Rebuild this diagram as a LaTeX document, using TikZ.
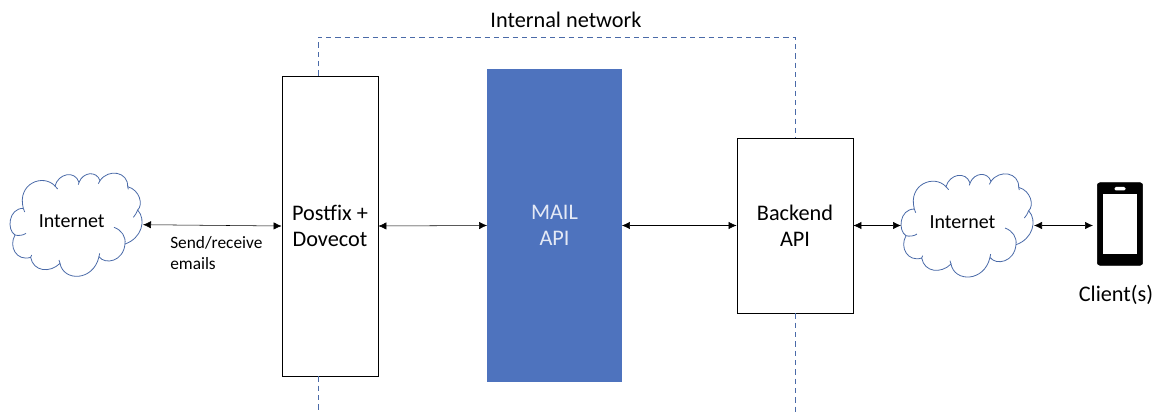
\documentclass[tikz,border=0pt]{standalone}
\usepackage{fontspec}
\setmainfont{Carlito}
\usetikzlibrary{arrows.meta}
\definecolor{netblue}{HTML}{4A6AA8}
\definecolor{apiblue}{HTML}{4E73BE}
\definecolor{apitext}{HTML}{E4E9F5}
\tikzset{
  box/.style={draw=black,fill=white,line width=0.6pt,align=center,inner sep=0pt,font=\fontsize{16.7}{19.8}\selectfont,execute at begin node=\rule{0pt}{14pt}},
  link/.style={{Latex[length=6pt,width=5.5pt]}-{Latex[length=6pt,width=5.5pt]},line width=0.4pt},
  net/.style={netblue,dashed,dash pattern=on 4pt off 3pt,line width=0.7pt},
  label/.style={inner sep=0pt,font=\fontsize{16.7}{19.8}\selectfont},
  cloudlabel/.style={inner sep=0pt,font=\fontsize{15}{18}\selectfont}
}
\def\CLOUD#1#2{
\begin{scope}[shift={(#1,#2)},x=0.25pt,y=-0.25pt]
  \draw [netblue,line width=0.6pt] (70,175) .. controls (50,100) and (130,70) .. (165,108)
    .. controls (175,70) and (225,60) .. (237,97) .. controls (250,65) and (290,62) .. (300,92)
    .. controls (325,55) and (385,65) .. (383,110) .. controls (420,120) and (430,165) .. (413,180)
    .. controls (440,210) and (425,265) .. (375,282) .. controls (370,335) and (315,345) .. (297,320)
    .. controls (280,395) and (190,395) .. (180,340) .. controls (150,370) and (100,365) .. (92,322)
    .. controls (50,335) and (25,290) .. (45,255) .. controls (20,240) and (25,175) .. (70,175);
  \draw [netblue,line width=0.6pt] (342,232) .. controls (365,240) and (378,260) .. (375,282);
  \draw [netblue,line width=0.6pt] (70,175) -- (74,186) (165,108) -- (173,117) (237,97) -- (235,104)
    (300,92) -- (295,101) (383,110) -- (385,118) (413,180) .. controls (410,190) and (405,195) .. (400,202)
    (297,320) -- (299,310) (180,340) -- (177,330) (92,322) -- (95,315);
  \draw [netblue,line width=0.6pt] (45,255) .. controls (55,258) and (70,256) .. (78,250);
\end{scope}
}

\begin{document}
\begin{tikzpicture}[x=0.75pt,y=-0.75pt]
\useasboundingbox (0,0) rectangle (1164,414);
\coordinate (netl) at (318,37);
\coordinate (netr) at (795,37);
\coordinate (netlb) at (318,412);
\coordinate (netrb) at (795,412);
\coordinate (inleft) at (143,224.7);
\coordinate (inmidw) at (901,225.5);
\coordinate (inmide) at (1034,225.5);
\CLOUD{0}{150}
\CLOUD{891}{150.7}
\node [cloudlabel] (inttext) at (71.7,221.5) {Internet};
\node [cloudlabel] (inrtext) at (962.5,222) {Internet};
\node [box,minimum width=96*0.75pt,minimum height=300*0.75pt] (postfix) at (330,226) {Postfix +\\Dovecot};
\node [box,draw=apiblue,fill=apiblue,text=apitext,minimum width=134*0.75pt,minimum height=312*0.75pt] (mail) at (554.5,225.5) {MAIL\\API};
\node [box,minimum width=116*0.75pt,minimum height=175*0.75pt] (backend) at (795,225.5) {Backend\\API};
\node [label] (network) at (566,20) {Internal network};
\node [label,font=\fontsize{13}{15.8}\selectfont,align=left,anchor=west] (send) at (170,253.5) {Send/receive\\emails};
\node [label] (client) at (1116,295) {Client(s)};
\node [draw=black,fill=black,rounded corners=2pt,inner sep=0pt,minimum width=45.4*0.75pt,minimum height=82.6*0.75pt] (phone) at (1120,224) {};
\node [fill=white,inner sep=0pt,minimum width=33.4*0.75pt,minimum height=60.3*0.75pt] (screen) at (1120,224.2) {};
\node [fill=white,rounded corners=1pt,inner sep=0pt,minimum width=11*0.75pt,minimum height=3.5*0.75pt] (speaker) at (1120,188.7) {};
\draw [net] (postfix.north -| netl) -- (netl) -- (netr) -- (backend.north);
\draw [net] (postfix.south -| netl) -- (netlb);
\draw [net] (backend.south) -- (netrb);
\draw [link] (inleft) -- (postfix.west);
\draw [link] (postfix.east) -- (mail.west);
\draw [link] (mail.east) -- (backend.west);
\draw [link] (backend.east) -- (inmidw);
\draw [link,shorten >=3pt] (inmide) -- (phone.west |- inmide);
\end{tikzpicture}
\end{document}
